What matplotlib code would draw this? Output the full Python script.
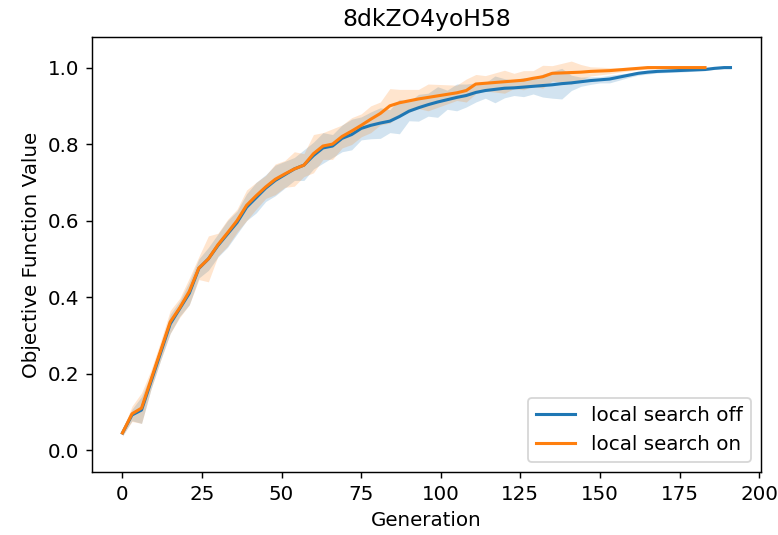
from matplotlib import use as setRenderingBackend  # isort:skip
setRenderingBackend('Agg')  # isort:skip

from numpy import array  # noqa: E402
from matplotlib import pyplot as plt  # noqa: E402

TITLE = '8dkZO4yoH58'
LABELS = ['local search off', 'local search on']

# generations (every third one)
gen_off = list(range(0, 190, 3)) + [191]
gen_on = list(range(0, 184, 3))

mean_off = [
    0.045, 0.092, 0.105, 0.180, 0.255, 0.330, 0.370, 0.410, 0.475, 0.500,
    0.535, 0.565, 0.595, 0.635, 0.660, 0.685, 0.705, 0.720, 0.735, 0.745,
    0.770, 0.790, 0.795, 0.815, 0.825, 0.841, 0.849, 0.855, 0.860, 0.872,
    0.886, 0.895, 0.903, 0.910, 0.916, 0.922, 0.927, 0.935, 0.940, 0.943,
    0.946, 0.947, 0.949, 0.951, 0.953, 0.955, 0.958, 0.960, 0.963, 0.966,
    0.968, 0.970, 0.975, 0.980, 0.985, 0.988, 0.990, 0.991, 0.992, 0.993,
    0.994, 0.995, 0.998, 1.000, 1.000,
]
spread_off = [
    0.008, 0.015, 0.035, 0.020, 0.020, 0.025, 0.020, 0.030, 0.025, 0.030,
    0.030, 0.035, 0.030, 0.035, 0.040, 0.035, 0.040, 0.035, 0.030, 0.040,
    0.035, 0.040, 0.030, 0.035, 0.040, 0.030, 0.035, 0.040, 0.030, 0.045,
    0.025, 0.035, 0.030, 0.040, 0.025, 0.035, 0.030, 0.025, 0.020, 0.035,
    0.025, 0.020, 0.025, 0.020, 0.030, 0.035, 0.040, 0.020, 0.012, 0.010,
    0.008, 0.010, 0.008, 0.006, 0.005, 0.005, 0.004, 0.004, 0.004, 0.004,
    0.003, 0.003, 0.003, 0.003, 0.003,
]

mean_on = [
    0.045, 0.095, 0.110, 0.185, 0.260, 0.335, 0.372, 0.415, 0.476, 0.500,
    0.537, 0.568, 0.600, 0.640, 0.665, 0.688, 0.708, 0.722, 0.735, 0.745,
    0.775, 0.795, 0.800, 0.820, 0.834, 0.849, 0.865, 0.880, 0.900, 0.908,
    0.913, 0.918, 0.922, 0.926, 0.930, 0.934, 0.940, 0.957, 0.959, 0.961,
    0.963, 0.965, 0.967, 0.972, 0.976, 0.985, 0.986, 0.987, 0.988, 0.990,
    0.991, 0.992, 0.994, 0.996, 0.998, 1.000, 1.000, 1.000, 1.000, 1.000,
    1.000, 1.000,
]
spread_on = [
    0.008, 0.020, 0.040, 0.025, 0.025, 0.030, 0.025, 0.035, 0.030, 0.060,
    0.030, 0.035, 0.030, 0.040, 0.035, 0.030, 0.040, 0.035, 0.045, 0.030,
    0.050, 0.035, 0.040, 0.030, 0.035, 0.030, 0.035, 0.030, 0.045, 0.035,
    0.030, 0.025, 0.035, 0.030, 0.025, 0.020, 0.030, 0.025, 0.020, 0.025,
    0.030, 0.020, 0.025, 0.020, 0.030, 0.020, 0.025, 0.030, 0.020, 0.012,
    0.010, 0.008, 0.006, 0.005, 0.004, 0.004, 0.003, 0.003, 0.003, 0.003,
    0.003, 0.003,
]


def draw_series(ax, gens, mean, spread, label):
    mean = array(mean)
    spread = array(spread)
    line, = ax.plot(gens, mean, label=label, linewidth=1.7)
    ax.fill_between(gens, mean - spread, mean + spread, color=line.get_color(), alpha=0.2, linewidth=0)


def main():
    plt.rcParams['font.size'] = 11
    fig = plt.figure(figsize=(778 / 130, 535 / 130), dpi=130)
    ax = fig.add_axes([0.1183, 0.1178, 0.8597, 0.8131])

    draw_series(ax, gen_off, mean_off, spread_off, LABELS[0])
    draw_series(ax, gen_on, mean_on, spread_on, LABELS[1])

    ax.set_xlim(-9.55, 200.55)
    ax.set_ylim(-0.057, 1.08)
    ax.set_xticks(range(0, 201, 25))
    ax.set(
        xlabel='Generation',
        ylabel='Objective Function Value',
    )
    ax.set_title(TITLE, fontsize=13)
    ax.legend(loc='lower right')

    fig.savefig('out.png', dpi=130)
    plt.close(fig)


if __name__ == '__main__':
    main()
